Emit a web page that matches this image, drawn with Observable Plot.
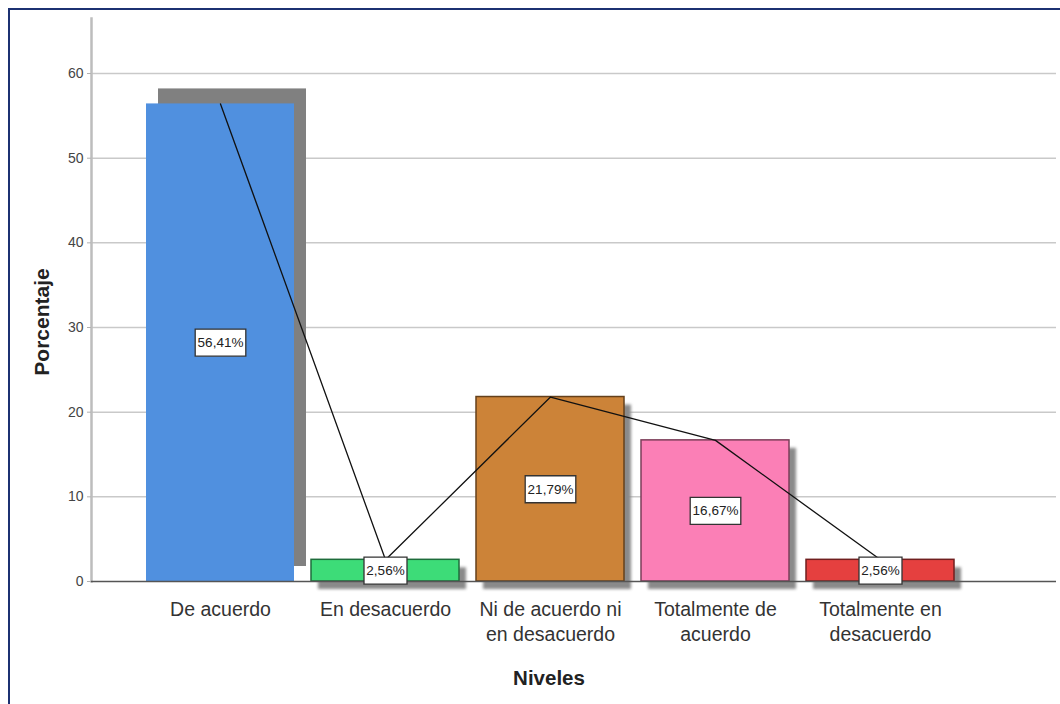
<!DOCTYPE html>
<html>
<head>
<meta charset="utf-8">
<script src="https://cdn.jsdelivr.net/npm/d3@7"></script>
<script src="https://cdn.jsdelivr.net/npm/@observablehq/plot@0.6"></script>
<style>
  html, body { margin: 0; padding: 0; background: #fff; overflow: hidden; }
  #wrap { position: relative; width: 1060px; height: 704px; overflow: hidden; background: #fff; }
  #border { position: absolute; left: 8px; top: 8px; width: 1100px; height: 800px; border: 2.5px solid #1c3172; pointer-events: none; }
  #chart { position: absolute; left: 0; top: 0; }
</style>
</head>
<body>
<div id="wrap"><div id="chart"></div><div id="border"></div></div>
<script>
const categories = ["De acuerdo", "En desacuerdo", "Ni de acuerdo ni en desacuerdo", "Totalmente de acuerdo", "Totalmente en desacuerdo"];
const tickLabels = ["De acuerdo", "En desacuerdo", "Ni de acuerdo ni\nen desacuerdo", "Totalmente de\nacuerdo", "Totalmente en\ndesacuerdo"];
const percentages = [56.41, 2.56, 21.79, 16.67, 2.56];
const barLabels = ["56,41%", "2,56%", "21,79%", "16,67%", "2,56%"];
const barColors = ["#5090df", "#3ddc78", "#cc8338", "#fb7fb6", "#e5403f"];
const yTicks = [0, 10, 20, 30, 40, 50, 60];
const yTitle = "Porcentaje";
const xTitle = "Niveles";

const data = categories.map((c, i) => ({cat: c, value: percentages[i], label: barLabels[i]}));

const font = '"Liberation Sans", Arial, sans-serif';

const boxSymbol = {
  draw(ctx, size) {
    const n = Math.sqrt(size / Math.PI);
    const w = 7.6 * n + 5, h = 27;
    ctx.rect(-w / 2, -h / 2, w, h);
  }
};

const chart = Plot.plot({
  width: 1060,
  height: 704,
  marginLeft: 91,
  marginRight: 4,
  marginTop: 18,
  marginBottom: 123,
  style: {fontFamily: font, background: "transparent"},
  x: {domain: categories, range: [137.5, 962.5], paddingInner: 0.103, paddingOuter: 0.0515, label: null},
  y: {domain: [0, 66.5], label: null},
  color: {domain: categories, range: barColors},
  r: {type: "identity"},
  marks: [
    Plot.gridY(yTicks.filter(t => t > 0), {stroke: "#c9c9c9", strokeOpacity: 1, strokeWidth: 1.5}),
    Plot.frame({anchor: "left", stroke: "#bdbdbd", strokeWidth: 2.5}),
    Plot.barY(data.filter((d, i) => i === 0), {x: "cat", y: "value", fill: "#808080", dx: 12, dy: -15}),
    Plot.barY(data.filter((d, i) => i > 0), {x: "cat", y: "value", fill: "#8a8a8a", dx: 7, dy: 8, imageFilter: "blur(1.5px)"}),
    Plot.barY(data, {
      x: "cat", y: "value", fill: "cat",
      stroke: d => d.cat === categories[0] ? "none" : d3.color(barColors[categories.indexOf(d.cat)]).darker(2).formatHex(),
      strokeWidth: 1.5
    }),
    Plot.ruleY([0], {stroke: "#555", strokeWidth: 1.5}),
    Plot.line(data, {x: "cat", y: "value", stroke: "#111", strokeWidth: 1.3}),
    Plot.dot(data, {x: "cat", y: d => d.value / 2, r: d => d.label.length, symbol: boxSymbol, fill: "white", stroke: "#333", strokeWidth: 1.3}),
    Plot.text(data, {x: "cat", y: d => d.value / 2, text: "label", fontSize: 13.5, fill: "#222"}),
    Plot.axisY({ticks: yTicks, tickSize: 4, tickPadding: 4, fontSize: 14, stroke: "#b0b0b0", fill: "#444", label: null}),
    Plot.axisX({tickSize: 0, tickPadding: 17, fontSize: 19.5, lineHeight: 1.28, fill: "#333", tickFormat: d => tickLabels[categories.indexOf(d)], label: null}),
    Plot.text([yTitle], {frameAnchor: "left", text: d => d, rotate: -90, textAnchor: "middle", dx: -49, dy: 22, fontSize: 21, fontWeight: "bold", fill: "#222"}),
    Plot.text([xTitle], {frameAnchor: "bottom", text: d => d, textAnchor: "middle", dx: -25, dy: 103, fontSize: 20.5, fontWeight: "bold", fill: "#222"})
  ]
});
document.getElementById("chart").appendChild(chart);
</script>
</body>
</html>
